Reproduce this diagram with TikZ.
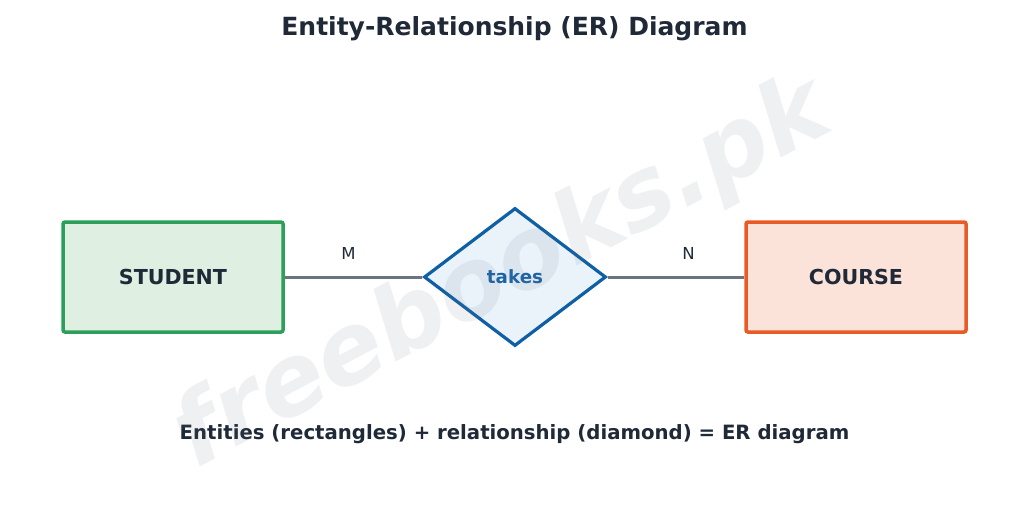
\documentclass[tikz,border=0pt]{standalone}
\usepackage{fontspec}
\setmainfont{DejaVu Sans}
\usetikzlibrary{shapes.geometric}
\definecolor{txt}{HTML}{1F2937}
\definecolor{gline}{HTML}{6B7280}
\definecolor{sgreen}{HTML}{2CA05A}
\definecolor{sgreenf}{HTML}{DFEFE2}
\definecolor{corange}{HTML}{E85A26}
\definecolor{corangef}{HTML}{FCE3D9}
\definecolor{rblue}{HTML}{0E5FA3}
\definecolor{rbluef}{HTML}{EAF2FA}
\definecolor{rbluet}{HTML}{1A64A6}
\definecolor{wm}{HTML}{697387}
\tikzset{
  entity/.style={draw, line width=3.5pt, rounded corners=2pt, minimum width=220pt, minimum height=110pt, inner sep=0pt, text=txt, font=\fontsize{20.6}{24}\selectfont\bfseries},
  relation/.style={diamond, draw=rblue, fill=rbluef, line width=3.2pt, minimum width=182pt, minimum height=138pt, inner sep=0pt, text=rbluet, font=\fontsize{18.3}{22}\selectfont\bfseries},
  conn/.style={draw=gline, line width=3pt},
  card/.style={text=txt, font=\fontsize{16.5}{20}\selectfont, anchor=base},
}
\begin{document}
\begin{tikzpicture}[x=1pt,y=-1pt]
\useasboundingbox (0,0) rectangle (1029,523);
\fill[white] (0,0) rectangle (1029,523);
\node[text=txt, font=\fontsize{25}{30}\selectfont\bfseries, anchor=base] (title) at (514.5,35) {Entity-Relationship (ER) Diagram};
\node[entity, draw=sgreen, fill=sgreenf] (student) at (173,277) {STUDENT};
\node[entity, draw=corange, fill=corangef] (course) at (856,277) {COURSE};
\node[relation] (takes) at (515,277) {takes};
\draw[conn] (student.east) -- (takes.west);
\draw[conn] (takes.east) -- (course.west);
\node[card] (m) at (348.5,259) {M};
\node[card] (n) at (688.5,259) {N};
\node[text=txt, font=\fontsize{19.7}{24}\selectfont\bfseries, anchor=base] (caption) at (514.5,439) {Entities (rectangles) + relationship (diamond) = ER diagram};
\node[text=wm, opacity=0.1, rotate=28, font=\fontsize{98}{110}\selectfont\bfseries\itshape] (wmark) at (503,275) {freebooks.pk};
\end{tikzpicture}
\end{document}
